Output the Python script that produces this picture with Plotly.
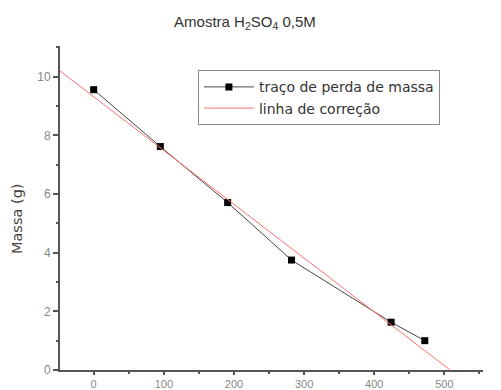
import plotly.graph_objects as go

# Data
time_x = [0, 95, 191, 282, 424, 472]
mass_y = [9.56, 7.62, 5.71, 3.75, 1.63, 1.00]

# correction (fit) line endpoints as seen in the picture
corr_x = [-48, 508]
corr_y = [10.2, 0.0]

series_names = ["traço de perda de massa", "linha de correção"]
title_text = "Amostra H<sub>2</sub>SO<sub>4</sub> 0,5M"
y_title = "Massa (g)"

fig = go.Figure()
fig.add_trace(go.Scatter(
    x=time_x, y=mass_y, mode="lines+markers", name=series_names[0],
    line=dict(color="#444444", width=1),
    marker=dict(symbol="square", size=7, color="black"),
))
fig.add_trace(go.Scatter(
    x=corr_x, y=corr_y, mode="lines", name=series_names[1],
    line=dict(color="#ff7070", width=1),
))

axis_color = "#555555"
fig.update_layout(
    width=501, height=390,
    margin=dict(l=60, r=18, t=46, b=20),
    paper_bgcolor="white", plot_bgcolor="white",
    font=dict(family="Liberation Sans, Arial, sans-serif", size=12, color="#555555"),
    title=dict(text=title_text, x=0.489, xref="container", y=0.945, yref="container",
               xanchor="center", yanchor="middle",
               font=dict(size=15, color="#333333")),
    showlegend=True,
    legend=dict(x=0.326, y=0.925, xanchor="left", yanchor="top",
                bordercolor="#888888", borderwidth=1, bgcolor="white",
                font=dict(family="DejaVu Sans", size=14, color="#333333"),
                itemwidth=50, tracegroupgap=0),
    xaxis=dict(range=[-48, 555], showgrid=False, zeroline=False, automargin=False,
               showline=True, linecolor=axis_color, linewidth=2,
               tick0=0, dtick=100, ticks="outside", ticklen=3, tickwidth=2,
               tickcolor=axis_color,
               minor=dict(dtick=50, tick0=0, ticks="outside", ticklen=2,
                          tickwidth=2, tickcolor=axis_color),
               tickfont=dict(size=11, color="#888888")),
    yaxis=dict(range=[0, 11.05], showgrid=False, zeroline=False, automargin=False,
               showline=True, linecolor=axis_color, linewidth=2,
               tick0=0, dtick=2, ticks="outside", ticklen=5, tickwidth=2,
               tickcolor=axis_color,
               minor=dict(dtick=1, tick0=0, ticks="outside", ticklen=2,
                          tickwidth=2, tickcolor=axis_color),
               tickfont=dict(size=12, color="#888888")),
    annotations=[dict(text=y_title, textangle=-90, xref="paper", yref="paper",
                      x=-0.1017, y=0.469, xanchor="center", yanchor="middle",
                      showarrow=False,
                      font=dict(family="DejaVu Sans", size=14.5, color="#444444"))],
)

fig.write_html("out.html")
